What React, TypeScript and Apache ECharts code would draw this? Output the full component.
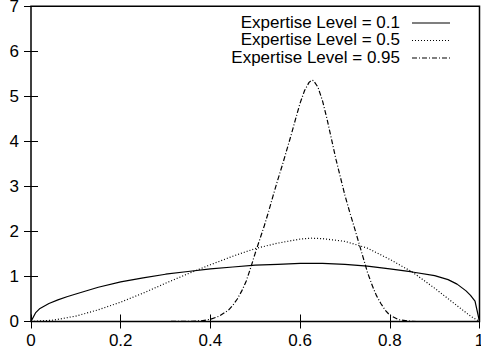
import React, { useEffect, useRef } from "react";
import * as echarts from "echarts";

const xTicks = [0, 0.2, 0.4, 0.6, 0.8, 1];
const yTicks = [0, 1, 2, 3, 4, 5, 6, 7];

const seriesNames = ["Expertise Level = 0.1", "Expertise Level = 0.5", "Expertise Level = 0.95"];

const lowX = [0, 0.01, 0.02, 0.04, 0.06, 0.08, 0.1, 0.15, 0.2, 0.25, 0.3, 0.35, 0.4, 0.45, 0.5, 0.55, 0.6, 0.65, 0.7, 0.75, 0.8, 0.85, 0.9, 0.93, 0.95, 0.97, 0.98, 0.99, 1.0];
const lowY = [0, 0.19, 0.29, 0.4, 0.48, 0.55, 0.61, 0.76, 0.88, 0.97, 1.05, 1.11, 1.17, 1.21, 1.25, 1.27, 1.29, 1.29, 1.27, 1.23, 1.17, 1.1, 1.02, 0.93, 0.83, 0.68, 0.58, 0.45, 0];

const midX = [0, 0.05, 0.1, 0.15, 0.2, 0.25, 0.3, 0.35, 0.4, 0.45, 0.5, 0.55, 0.6, 0.625, 0.65, 0.7, 0.75, 0.8, 0.85, 0.9, 0.95, 0.98, 1.0];
const midY = [0, 0.03, 0.12, 0.26, 0.43, 0.63, 0.85, 1.06, 1.26, 1.45, 1.62, 1.74, 1.83, 1.85, 1.84, 1.78, 1.63, 1.38, 1.1, 0.74, 0.35, 0.12, 0];

const highX = [0, 0.3, 0.35, 0.38, 0.4, 0.42, 0.44, 0.45, 0.46, 0.47, 0.48, 0.49, 0.5, 0.51, 0.52, 0.53, 0.54, 0.55, 0.56, 0.57, 0.58, 0.59, 0.6, 0.61, 0.62, 0.626, 0.63, 0.64, 0.65, 0.66, 0.67, 0.68, 0.69, 0.7, 0.71, 0.72, 0.73, 0.74, 0.75, 0.76, 0.77, 0.78, 0.79, 0.8, 0.82, 0.84, 0.86, 1.0];
const highY = [0, 0, 0.003, 0.015, 0.05, 0.12, 0.25, 0.36, 0.5, 0.68, 0.9, 1.2, 1.52, 1.82, 2.12, 2.45, 2.8, 3.14, 3.46, 3.8, 4.14, 4.5, 4.85, 5.13, 5.31, 5.36, 5.35, 5.2, 4.9, 4.5, 4.05, 3.6, 3.2, 2.8, 2.45, 2.12, 1.78, 1.44, 1.1, 0.82, 0.58, 0.4, 0.25, 0.14, 0.04, 0.01, 0, 0];

const FONT = "'Liberation Sans', Arial, Helvetica, sans-serif";

function pairs(xs: number[], ys: number[]) {
  return xs.map((x, i) => [x, ys[i]]);
}

export default function App() {
  const ref = useRef<HTMLDivElement>(null);
  useEffect(() => {
    const chart = echarts.init(ref.current!, null, { renderer: "svg" });
    const lineStyles = [
      { type: "solid" as any, width: 1.2 },
      { type: [1, 2] as any, width: 1.2 },
      { type: [5, 2, 1, 2] as any, width: 1.2 },
    ];
    const datas = [pairs(lowX, lowY), pairs(midX, midY), pairs(highX, highY)];
    const rowY = [22, 39.5, 57];
    const graphic: any[] = [];
    seriesNames.forEach((n, i) => {
      graphic.push({
        type: "text",
        x: 400,
        y: rowY[i],
        style: { text: n, fill: "#000", font: `17px ${FONT}`, textAlign: "right", textVerticalAlign: "middle" },
      });
      graphic.push({
        type: "line",
        shape: { x1: 412, y1: rowY[i] + 1, x2: 450, y2: rowY[i] + 1 },
        style: { stroke: "#000", lineWidth: 1.2, lineDash: i === 0 ? null : (lineStyles[i].type as any) },
      });
    });
    const tickCommon = { show: true, inside: true, length: 7, lineStyle: { color: "#000", width: 1 } };
    chart.setOption({
      animation: false,
      grid: { left: 31, right: 1.5, top: 6.3, bottom: 32.5, show: true, borderColor: "#000", borderWidth: 1.5, backgroundColor: "transparent", containLabel: false, outerBoundsMode: "none" },
      xAxis: [
        {
          type: "value", min: xTicks[0], max: xTicks[xTicks.length - 1], interval: 0.2,
          axisLine: { show: false }, splitLine: { show: false }, axisTick: tickCommon,
          axisLabel: { color: "#000", fontSize: 17, fontFamily: FONT, margin: 10, showMaxLabel: true, showMinLabel: true },
        },
        {
          type: "value", position: "top", min: xTicks[0], max: xTicks[xTicks.length - 1], interval: 0.2,
          axisLine: { show: false }, splitLine: { show: false }, axisTick: tickCommon, axisLabel: { show: false },
        },
      ],
      yAxis: [
        {
          type: "value", min: yTicks[0], max: yTicks[yTicks.length - 1], interval: 1,
          axisLine: { show: false }, splitLine: { show: false }, axisTick: tickCommon,
          axisLabel: { color: "#000", fontSize: 17, fontFamily: FONT, margin: 12 },
        },
        {
          type: "value", position: "right", min: yTicks[0], max: yTicks[yTicks.length - 1], interval: 1,
          axisLine: { show: false }, splitLine: { show: false }, axisTick: tickCommon, axisLabel: { show: false },
        },
      ],
      series: datas.map((d, i) => ({
        name: seriesNames[i],
        type: "line",
        xAxisIndex: 0,
        yAxisIndex: 0,
        data: d,
        showSymbol: false,
        symbol: "none",
        smooth: false,
        lineStyle: { color: "#000", ...lineStyles[i] },
      })),
      graphic,
    });
    return () => chart.dispose();
  }, []);
  return <div ref={ref} style={{ position: "fixed", left: 0, top: 0, width: 481, height: 354, background: "#fff" }} />;
}
